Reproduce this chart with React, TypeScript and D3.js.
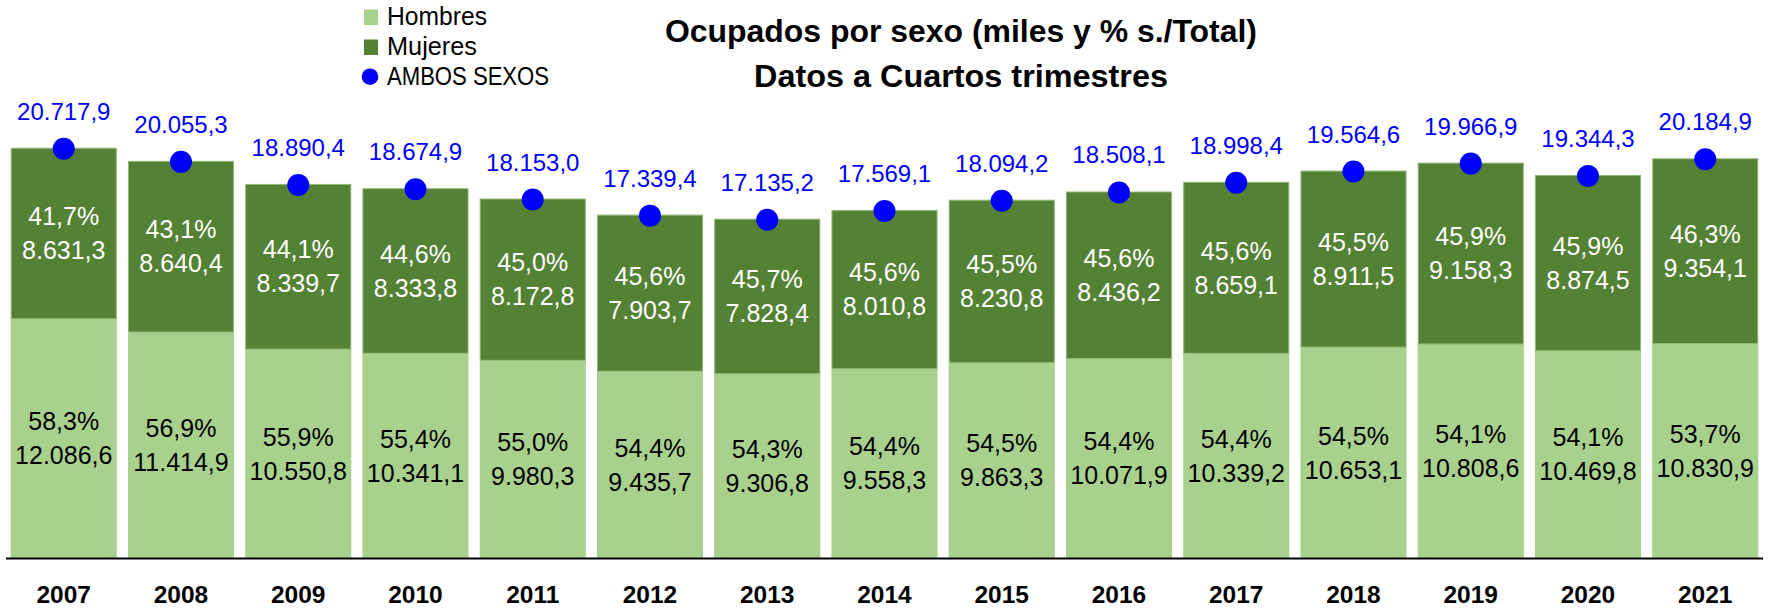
import React from "react";
import * as d3 from "d3";

const years = ["2007","2008","2009","2010","2011","2012","2013","2014","2015","2016","2017","2018","2019","2020","2021"];
const hombres = [12086.6, 11414.9, 10550.8, 10341.1, 9980.3, 9435.7, 9306.8, 9558.3, 9863.3, 10071.9, 10339.2, 10653.1, 10808.6, 10469.8, 10830.9];
const mujeres = [8631.3, 8640.4, 8339.7, 8333.8, 8172.8, 7903.7, 7828.4, 8010.8, 8230.8, 8436.2, 8659.1, 8911.5, 9158.3, 8874.5, 9354.1];
const ambos = [20717.9, 20055.3, 18890.4, 18674.9, 18153.0, 17339.4, 17135.2, 17569.1, 18094.2, 18508.1, 18998.4, 19564.6, 19966.9, 19344.3, 20184.9];
const pctHombres = [58.3, 56.9, 55.9, 55.4, 55.0, 54.4, 54.3, 54.4, 54.5, 54.4, 54.4, 54.5, 54.1, 54.1, 53.7];
const pctMujeres = [41.7, 43.1, 44.1, 44.6, 45.0, 45.6, 45.7, 45.6, 45.5, 45.6, 45.6, 45.5, 45.9, 45.9, 46.3];
const seriesNames = ["Hombres", "Mujeres", "AMBOS SEXOS"];
const titleLines = ["Ocupados por sexo (miles y % s./Total)", "Datos a Cuartos trimestres"];

const W = 1773;
const H = 609;
const C_H = "#a9d18e";
const C_M = "#548235";
const C_T = "#0000ff";
const FONT = "'Liberation Sans', Arial, sans-serif";

const loc = d3.formatLocale({ decimal: ",", thousands: ".", grouping: [3], currency: ["", "€"] });
const fmtNum = loc.format(",.1f");
const fmtPct = (v: number) => loc.format(".1f")(v) + "%";

export default function App() {
  const x = d3.scaleBand<string>().domain(years).range([6, 1763]).paddingInner(0.095).paddingOuter(0.04);
  const y = d3.scaleLinear().domain([0, 28000]).range([558, 3.54]);
  const bw = x.bandwidth();

  return (
    <svg width={W} height={H} style={{ position: "absolute", left: 0, top: 0, display: "block", background: "#fff" }} fontFamily={FONT}>
      {years.map((yr, i) => {
        const x0 = x(yr)!;
        const cx = x0 + bw / 2;
        const yH = y(hombres[i]);
        const yT = y(hombres[i] + mujeres[i]);
        const midH = (yH + y(0)) / 2;
        const midM = (yT + yH) / 2;
        return (
          <g key={yr}>
            <rect x={x0} y={yH} width={bw} height={y(0) - yH} fill={C_H} />
            <rect x={x0 + 0.5} y={yT + 0.5} width={bw - 1} height={yH - yT - 0.5} fill={C_M} stroke="#8fb874" strokeWidth={1} />
            <text x={cx} y={midM - 17 + 9} textAnchor="middle" fontSize={25} fill="#fff">{fmtPct(pctMujeres[i])}</text>
            <text x={cx} y={midM + 17 + 9} textAnchor="middle" fontSize={25} fill="#fff">{fmtNum(mujeres[i])}</text>
            <text x={cx} y={midH - 17 + 9} textAnchor="middle" fontSize={25} fill="#000">{fmtPct(pctHombres[i])}</text>
            <text x={cx} y={midH + 17 + 9} textAnchor="middle" fontSize={25} fill="#000">{fmtNum(hombres[i])}</text>
            <circle cx={cx} cy={y(ambos[i]) + 1} r={11} fill={C_T} />
            <text x={cx} y={y(ambos[i]) - 28} textAnchor="middle" fontSize={24} fill={C_T}>{fmtNum(ambos[i])}</text>
            <text x={cx} y={603} textAnchor="middle" fontSize={24.5} fontWeight="bold" fill="#000">{yr}</text>
          </g>
        );
      })}
      <line x1={6} x2={1763} y1={558.5} y2={558.5} stroke="#000" strokeWidth={2} />

      <text x={961} y={42} textAnchor="middle" fontSize={31} fontWeight="bold" fill="#000" textLength={592} lengthAdjust="spacingAndGlyphs">{titleLines[0]}</text>
      <text x={961} y={87} textAnchor="middle" fontSize={31} fontWeight="bold" fill="#000" textLength={414} lengthAdjust="spacingAndGlyphs">{titleLines[1]}</text>

      <g>
        <rect x={364} y={9.5} width={14} height={15.5} fill={C_H} />
        <text x={387} y={25} fontSize={25} fill="#000" textLength={100} lengthAdjust="spacingAndGlyphs">{seriesNames[0]}</text>
        <rect x={364} y={39.5} width={14} height={15.5} fill={C_M} />
        <text x={387} y={55} fontSize={25} fill="#000" textLength={90} lengthAdjust="spacingAndGlyphs">{seriesNames[1]}</text>
        <circle cx={370} cy={76.7} r={8.3} fill={C_T} />
        <text x={387} y={85} fontSize={25} fill="#000" textLength={162} lengthAdjust="spacingAndGlyphs">{seriesNames[2]}</text>
      </g>
    </svg>
  );
}
